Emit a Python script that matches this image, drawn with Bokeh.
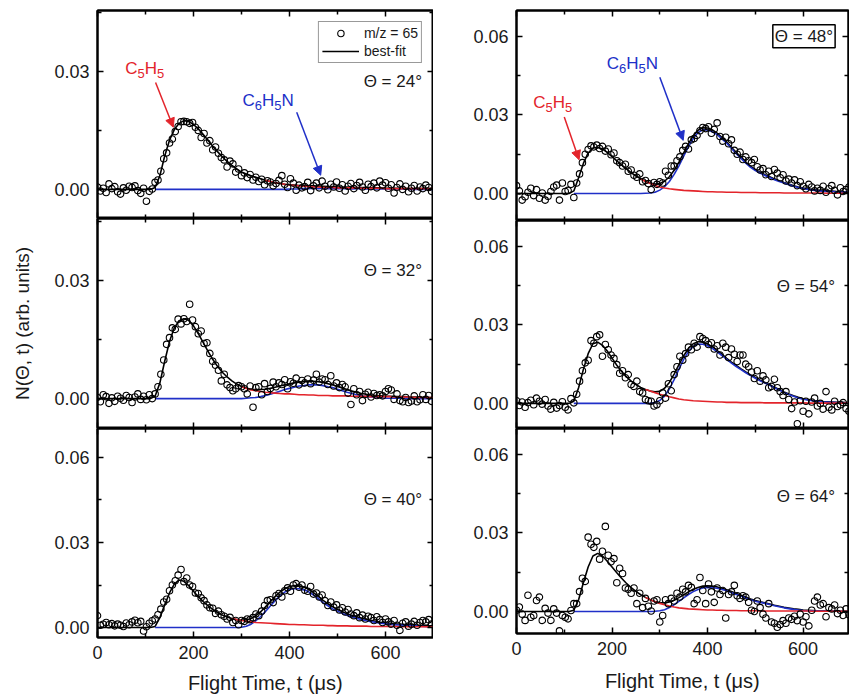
import numpy as np
from bokeh.plotting import figure
from bokeh.layouts import row, column
from bokeh.models import (Range1d, LinearAxis, FixedTicker, PrintfTickFormatter, Label,
                          Arrow, NormalHead, Legend, LegendItem)
from bokeh.embed import file_html
from bokeh.resources import INLINE

_ = None  # part of a component curve that is not drawn

# ---------------------------------------------------------------- data
T_FIT = list(range(0, 701, 10))      # fit curves, flight time (us)
T_PTS = list(range(0, 700, 6))       # data points, flight time (us)

X_MAJOR = [0, 200, 400, 600]
X_MINOR = [100, 300, 500, 700]
Y_MAJOR = [0.0, 0.03, 0.06]
Y_MINOR = [0.015, 0.045]

X_TITLE = "Flight Time, t (\u03bcs)"
Y_TITLE = "N(\u0398, t) (arb. units)"
LEGEND_LABELS = ["m/z = 65", "best-fit"]

# ---- Theta = 24
PTS_24 = [0.0006, -0.0004, 0.0003, -0.0008, 0.0014, 0.0002, 0.0007, -0.0006, -0.0012, 0.0004,
          -0.0002, 0.0008, 0.0005, 0.0009, -0.0003, -0.0010, 0.0003, -0.0030, -0.0005, 0.0001,
          0.0018, 0.0024, 0.0046, 0.0078, 0.0093, 0.0118, 0.0128, 0.0147, 0.0160, 0.0172,
          0.0173, 0.0172, 0.0168, 0.0170, 0.0158, 0.0150, 0.0132, 0.0142, 0.0118, 0.0124,
          0.0101, 0.0108, 0.0092, 0.0081, 0.0075, 0.0057, 0.0072, 0.0065, 0.0044, 0.0052,
          0.0035, 0.0042, 0.0030, 0.0038, 0.0024, 0.0031, 0.0020, 0.0026, 0.0012, 0.0022,
          0.0019, 0.0009, 0.0015, 0.0023, 0.0035, 0.0013, 0.0005, 0.0027, 0.0016, -0.0002,
          0.0011, 0.0004, 0.0007, 0.0018, -0.0003, 0.0009, 0.0016, 0.0004, 0.0021, 0.0008,
          -0.0001, 0.0013, 0.0006, 0.0019, 0.0003, 0.0012, -0.0004, 0.0008, 0.0015, 0.0002,
          0.0010, 0.0018, 0.0006, -0.0002, 0.0013, 0.0007, 0.0016, 0.0004, 0.0021, 0.0011,
          0.0017, 0.0003, 0.0012, -0.0009, 0.0005, 0.0014, 0.0000, 0.0008, -0.0006, 0.0003,
          0.0010, -0.0004, 0.0006, 0.0002, 0.0011, 0.0005, -0.0005]
BLACK_24 = [0, 0, 0, 0, 0, 0, 0, 0, 0, 0,
            0, 0, 0.0005, 0.0035, 0.0085, 0.0125, 0.0152, 0.0168, 0.0175, 0.0173,
            0.0165, 0.0154, 0.0140, 0.0125, 0.0110, 0.0096, 0.0083, 0.0071, 0.0061, 0.0052,
            0.0044, 0.0039, 0.0035, 0.0031, 0.0027, 0.0023, 0.0020, 0.0017, 0.0015, 0.0013,
            0.0012, 0.0011, 0.0010, 0.0010, 0.0009, 0.0009, 0.0008, 0.0008, 0.0007, 0.0007,
            0.0006, 0.0006, 0.0006, 0.0005, 0.0005, 0.0005, 0.0004, 0.0004, 0.0004, 0.0004,
            0.0003, 0.0003, 0.0003, 0.0003, 0.0003, 0.0002, 0.0002, 0.0002, 0.0002, 0.0002,
            0.0002]
RED_24 = [_, _, _, _, _, _, _, _, _, _,
          _, _, _, _, _, _, _, _, _, _,
          _, _, _, _, _, _, _, _, _, _,
          _, _, _, _, _, 0.0023, 0.0020, 0.0017, 0.0015, 0.0013,
          0.0011, 0.0010, 0.0009, 0.0008, 0.0007, 0.0006, 0.0006, 0.0005, 0.0005, 0.0005,
          0.0004, 0.0004, 0.0004, 0.0004, 0.0003, 0.0003, 0.0003, 0.0003, 0.0003, 0.0003,
          0.0002, 0.0002, 0.0002, 0.0002, 0.0002, 0.0002, 0.0002, 0.0002, 0.0002, 0.0002,
          0.0002]
BLUE_24 = [_, _, _, _, _, _, _, _, _, _,
           _, _, 0, 0, 0, 0, 0, 0, 0, 0,
           0, 0, 0, 0, 0, 0, 0, 0, 0, 0,
           0, 0, 0, 0, 0, 0, 0, 0, 0, 0,
           0.0001, 0.0001, 0.0001, 0.0002, 0.0002, 0.0003, 0.0002, 0.0003, 0.0002, 0.0002,
           0.0002, 0.0002, 0.0002, 0.0001, 0.0002, 0.0002, 0.0001, 0.0001, 0.0001, 0.0001,
           0.0001, 0.0001, 0.0001, 0.0001, 0.0001, 0, 0, 0, 0, 0,
           0]

# ---- Theta = 32
PTS_32 = [0.0003, -0.0008, 0.0010, 0.0005, -0.0012, 0.0002, -0.0007, 0.0006, 0.0001, -0.0004,
          0.0008, 0.0003, -0.0010, 0.0004, 0.0012, -0.0002, 0.0006, -0.0003, 0.0010, 0.0000,
          0.0012, 0.0030, 0.0062, 0.0098, 0.0138, 0.0155, 0.0180, 0.0176, 0.0202, 0.0190,
          0.0203, 0.0196, 0.0240, 0.0200, 0.0183, 0.0165, 0.0172, 0.0140, 0.0142, 0.0115,
          0.0095, 0.0085, 0.0072, 0.0045, 0.0062, 0.0035, 0.0028, 0.0020, 0.0025, 0.0033,
          0.0030, 0.0025, 0.0012, 0.0032, -0.0022, 0.0028, 0.0030, 0.0010, 0.0038, 0.0018,
          0.0026, 0.0042, 0.0030, 0.0040, 0.0036, 0.0048, 0.0025, 0.0043, 0.0039, 0.0052,
          0.0035, 0.0046, 0.0040, 0.0050, 0.0038, 0.0047, 0.0062, 0.0042, 0.0050, 0.0048,
          0.0036, 0.0058, 0.0032, 0.0040, 0.0028, 0.0036, 0.0030, 0.0014, -0.0015, 0.0025,
          0.0010, 0.0018, -0.0005, 0.0011, 0.0016, 0.0004, 0.0013, 0.0008, 0.0010, 0.0007,
          0.0018, 0.0025, 0.0022, -0.0002, 0.0012, -0.0005, -0.0008, 0.0003, -0.0010, -0.0006,
          0.0007, -0.0008, -0.0003, 0.0010, -0.0002, 0.0008, -0.0007]
BLACK_32 = [0, 0, 0, 0, 0, 0, 0, 0, 0, 0,
            0, 0, 0.0006, 0.0040, 0.0095, 0.0145, 0.0180, 0.0198, 0.0203, 0.0199,
            0.0185, 0.0165, 0.0143, 0.0121, 0.0100, 0.0082, 0.0067, 0.0055, 0.0045, 0.0037,
            0.0031, 0.0027, 0.0024, 0.0023, 0.0023, 0.0024, 0.0026, 0.0029, 0.0032, 0.0035,
            0.0038, 0.0040, 0.0042, 0.0043, 0.0044, 0.0044, 0.0043, 0.0041, 0.0038, 0.0035,
            0.0031, 0.0027, 0.0023, 0.0019, 0.0016, 0.0013, 0.0011, 0.0009, 0.0008, 0.0007,
            0.0006, 0.0006, 0.0005, 0.0005, 0.0005, 0.0004, 0.0004, 0.0004, 0.0003, 0.0003,
            0.0003]
RED_32 = [_, _, _, _, _, _, _, _, _, _,
          _, _, _, _, _, _, _, _, _, _,
          _, _, _, _, _, _, _, _, _, _,
          0.0030, 0.0026, 0.0022, 0.0020, 0.0018, 0.0016, 0.0015, 0.0014, 0.0013, 0.0012,
          0.0012, 0.0011, 0.0010, 0.0010, 0.0009, 0.0009, 0.0008, 0.0008, 0.0008, 0.0007,
          0.0007, 0.0007, 0.0007, 0.0006, 0.0006, 0.0006, 0.0006, 0.0005, 0.0005, 0.0005,
          0.0005, 0.0005, 0.0004, 0.0004, 0.0004, 0.0004, 0.0003, 0.0003, 0.0003, 0.0003,
          0.0003]
BLUE_32 = [_, _, _, _, _, _, _, _, _, _,
           _, _, 0, 0, 0, 0, 0, 0, 0, 0,
           0, 0, 0, 0, 0, 0, 0, 0, 0, 0,
           0.0000, 0.0001, 0.0002, 0.0003, 0.0005, 0.0008, 0.0011, 0.0015, 0.0019, 0.0023,
           0.0026, 0.0029, 0.0032, 0.0033, 0.0035, 0.0035, 0.0035, 0.0033, 0.0030, 0.0028,
           0.0024, 0.0020, 0.0016, 0.0013, 0.0010, 0.0007, 0.0005, 0.0004, 0.0003, 0.0002,
           0.0001, 0.0001, 0.0001, 0.0001, 0.0001, 0, 0, 0, 0, 0,
           0]

# ---- Theta = 40
PTS_40 = [0.0042, 0.0008, 0.0012, 0.0018, 0.0010, 0.0014, 0.0006, 0.0012, 0.0008, 0.0004,
          0.0016, 0.0010, 0.0020, 0.0026, 0.0017, 0.0022, -0.0012, 0.0003, 0.0015, 0.0024,
          0.0030, 0.0045, 0.0065, 0.0090, 0.0100, 0.0130, 0.0150, 0.0165, 0.0185, 0.0205,
          0.0162, 0.0175, 0.0150, 0.0145, 0.0122, 0.0120, 0.0105, 0.0095, 0.0080, 0.0070,
          0.0068, 0.0050, 0.0058, 0.0045, 0.0040, 0.0030, 0.0036, 0.0018, 0.0025, 0.0010,
          0.0025, 0.0022, 0.0030, 0.0028, 0.0035, 0.0048, 0.0042, 0.0058, 0.0078, 0.0095,
          0.0098, 0.0088, 0.0112, 0.0120, 0.0108, 0.0130, 0.0140, 0.0128, 0.0150, 0.0155,
          0.0142, 0.0150, 0.0132, 0.0128, 0.0145, 0.0118, 0.0122, 0.0108, 0.0115, 0.0095,
          0.0078, 0.0090, 0.0072, 0.0080, 0.0062, 0.0070, 0.0055, 0.0064, 0.0048, 0.0042,
          0.0052, 0.0035, 0.0044, 0.0030, 0.0040, 0.0035, 0.0025, 0.0038, 0.0028, 0.0018,
          0.0030, 0.0020, 0.0012, 0.0025, 0.0008, -0.0010, 0.0015, 0.0020, 0.0005, 0.0012,
          0.0022, 0.0008, 0.0018, 0.0025, 0.0020, 0.0028, 0.0012]
BLACK_40 = [0, 0, 0, 0, 0, 0, 0, 0, 0, 0,
            0, 0, 0.0004, 0.0035, 0.0080, 0.0122, 0.0153, 0.0168, 0.0163, 0.0148,
            0.0128, 0.0109, 0.0092, 0.0077, 0.0064, 0.0053, 0.0044, 0.0037, 0.0032, 0.0028,
            0.0026, 0.0027, 0.0032, 0.0042, 0.0056, 0.0073, 0.0091, 0.0109, 0.0125, 0.0137,
            0.0145, 0.0148, 0.0147, 0.0143, 0.0135, 0.0123, 0.0110, 0.0096, 0.0084, 0.0073,
            0.0064, 0.0056, 0.0049, 0.0043, 0.0038, 0.0033, 0.0029, 0.0025, 0.0022, 0.0019,
            0.0017, 0.0015, 0.0013, 0.0012, 0.0011, 0.0010, 0.0009, 0.0008, 0.0007, 0.0006,
            0.0006]
RED_40 = [_, _, _, _, _, _, _, _, _, _,
          _, _, _, _, _, _, _, _, _, _,
          _, _, _, _, _, _, _, _, 0.0032, 0.0028,
          0.0025, 0.0022, 0.0020, 0.0018, 0.0017, 0.0016, 0.0015, 0.0014, 0.0013, 0.0012,
          0.0011, 0.0011, 0.0010, 0.0010, 0.0009, 0.0008, 0.0008, 0.0008, 0.0007, 0.0007,
          0.0006, 0.0006, 0.0006, 0.0005, 0.0005, 0.0005, 0.0005, 0.0004, 0.0004, 0.0004,
          0.0004, 0.0004, 0.0004, 0.0003, 0.0003, 0.0003, 0.0003, 0.0003, 0.0003, 0.0003,
          0.0003]
BLUE_40 = [_, _, _, _, _, _, _, _, _, _,
           _, _, 0, 0, 0, 0, 0, 0, 0, 0,
           0, 0, 0, 0, 0, 0, 0, 0, 0, 0,
           0.0001, 0.0005, 0.0012, 0.0024, 0.0039, 0.0057, 0.0076, 0.0095, 0.0112, 0.0125,
           0.0134, 0.0137, 0.0137, 0.0133, 0.0126, 0.0115, 0.0102, 0.0088, 0.0077, 0.0066,
           0.0058, 0.0050, 0.0043, 0.0038, 0.0033, 0.0028, 0.0024, 0.0021, 0.0018, 0.0015,
           0.0013, 0.0011, 0.0009, 0.0009, 0.0008, 0.0007, 0.0006, 0.0005, 0.0004, 0.0003,
           0.0003]

# ---- Theta = 48
PTS_48 = [0.0030, 0.0010, -0.0025, -0.0012, 0.0005, 0.0020, -0.0008, 0.0015, -0.0018, 0.0002,
          -0.0025, -0.0010, 0.0008, 0.0025, 0.0032, -0.0025, 0.0040, 0.0008, 0.0012, 0.0035,
          -0.0015, 0.0040, 0.0075, 0.0118, 0.0150, 0.0168, 0.0182, 0.0178, 0.0185, 0.0172,
          0.0180, 0.0162, 0.0170, 0.0148, 0.0155, 0.0125, 0.0118, 0.0105, 0.0112, 0.0085,
          0.0090, 0.0070, 0.0062, 0.0075, 0.0045, 0.0050, 0.0038, 0.0015, 0.0042, 0.0035,
          0.0045, 0.0040, 0.0085, 0.0070, 0.0105, 0.0105, 0.0125, 0.0140, 0.0165, 0.0180,
          0.0170, 0.0205, 0.0210, 0.0222, 0.0240, 0.0252, 0.0248, 0.0255, 0.0230, 0.0245,
          0.0270, 0.0218, 0.0200, 0.0215, 0.0190, 0.0205, 0.0165, 0.0150, 0.0158, 0.0130,
          0.0140, 0.0125, 0.0118, 0.0130, 0.0102, 0.0090, 0.0095, 0.0072, 0.0085, 0.0065,
          0.0092, 0.0078, 0.0060, 0.0072, 0.0048, 0.0055, 0.0040, 0.0052, 0.0030, 0.0045,
          0.0028, 0.0018, 0.0035, 0.0025, 0.0010, 0.0020, 0.0012, 0.0028, 0.0005, 0.0018,
          0.0030, 0.0012, -0.0005, 0.0022, 0.0008, 0.0015, 0.0025]
BLACK_48 = [0, 0, 0, 0, 0, 0, 0, 0, 0, 0,
            0, 0, 0.0010, 0.0060, 0.0115, 0.0155, 0.0174, 0.0177, 0.0170, 0.0157,
            0.0141, 0.0125, 0.0109, 0.0094, 0.0080, 0.0067, 0.0056, 0.0047, 0.0040, 0.0036,
            0.0038, 0.0047, 0.0064, 0.0089, 0.0120, 0.0155, 0.0190, 0.0220, 0.0242, 0.0251,
            0.0250, 0.0243, 0.0231, 0.0215, 0.0197, 0.0177, 0.0157, 0.0138, 0.0120, 0.0104,
            0.0092, 0.0081, 0.0072, 0.0064, 0.0056, 0.0049, 0.0042, 0.0036, 0.0030, 0.0025,
            0.0021, 0.0018, 0.0015, 0.0013, 0.0011, 0.0010, 0.0009, 0.0008, 0.0007, 0.0006,
            0.0006]
RED_48 = [_, _, _, _, _, _, _, _, _, _,
          _, _, _, _, _, _, _, _, _, _,
          _, _, _, _, _, _, 0.0056, 0.0046, 0.0038, 0.0031,
          0.0025, 0.0021, 0.0018, 0.0016, 0.0014, 0.0012, 0.0011, 0.0010, 0.0009, 0.0008,
          0.0007, 0.0007, 0.0006, 0.0006, 0.0005, 0.0005, 0.0005, 0.0004, 0.0004, 0.0004,
          0.0004, 0.0003, 0.0003, 0.0003, 0.0003, 0.0003, 0.0002, 0.0002, 0.0002, 0.0002,
          0.0002, 0.0002, 0.0002, 0.0002, 0.0002, 0.0001, 0.0001, 0.0001, 0.0001, 0.0001,
          0.0001]
BLUE_48 = [_, _, _, _, _, _, _, _, _, _,
           _, _, 0, 0, 0, 0, 0, 0, 0, 0,
           0, 0, 0, 0, 0, 0, 0, 0.0001, 0.0002, 0.0005,
           0.0013, 0.0026, 0.0046, 0.0073, 0.0106, 0.0143, 0.0179, 0.0210, 0.0233, 0.0243,
           0.0243, 0.0236, 0.0225, 0.0209, 0.0192, 0.0172, 0.0152, 0.0134, 0.0116, 0.0100,
           0.0088, 0.0078, 0.0069, 0.0061, 0.0053, 0.0046, 0.0040, 0.0034, 0.0028, 0.0023,
           0.0019, 0.0016, 0.0013, 0.0011, 0.0009, 0.0008, 0.0008, 0.0007, 0.0006, 0.0005,
           0.0005]

# ---- Theta = 54
PTS_54 = [0.0010, -0.0008, 0.0005, -0.0015, 0.0003, 0.0012, -0.0005, 0.0020, 0.0008, -0.0003,
          0.0015, -0.0010, -0.0022, 0.0004, -0.0018, -0.0008, 0.0006, -0.0015, -0.0025, 0.0018,
          0.0002, 0.0035, 0.0085, 0.0125, 0.0155, 0.0165, 0.0240, 0.0230, 0.0255, 0.0262,
          0.0180, 0.0225, 0.0205, 0.0185, 0.0172, 0.0148, 0.0115, 0.0125, 0.0098, 0.0110,
          0.0072, 0.0065, 0.0085, 0.0045, 0.0040, 0.0015, 0.0010, 0.0008, -0.0010, -0.0005,
          0.0010, 0.0040, 0.0020, 0.0075, 0.0048, 0.0110, 0.0140, 0.0180, 0.0165, 0.0190,
          0.0215, 0.0205, 0.0230, 0.0215, 0.0255, 0.0248, 0.0240, 0.0225, 0.0232, 0.0208,
          0.0220, 0.0185, 0.0230, 0.0215, 0.0175, 0.0208, 0.0188, 0.0160, 0.0185, 0.0185,
          0.0150, 0.0140, 0.0120, 0.0095, 0.0125, 0.0085, 0.0105, 0.0090, 0.0060, 0.0065,
          0.0092, 0.0060, 0.0045, 0.0030, 0.0045, 0.0015, -0.0020, 0.0005, -0.0078, 0.0010,
          -0.0030, 0.0008, -0.0040, 0.0005, 0.0020, -0.0010, 0.0000, -0.0022, 0.0045, -0.0015,
          -0.0025, 0.0008, -0.0012, -0.0005, 0.0003, -0.0020, -0.0030]
BLACK_54 = [0, 0, 0, 0, 0, 0, 0, 0, 0, 0,
            0, 0, 0.0008, 0.0060, 0.0130, 0.0190, 0.0228, 0.0234, 0.0222, 0.0200,
            0.0173, 0.0146, 0.0122, 0.0102, 0.0085, 0.0072, 0.0061, 0.0053, 0.0047, 0.0044,
            0.0046, 0.0058, 0.0080, 0.0112, 0.0148, 0.0182, 0.0210, 0.0228, 0.0236, 0.0234,
            0.0227, 0.0216, 0.0202, 0.0188, 0.0172, 0.0158, 0.0145, 0.0132, 0.0120, 0.0109,
            0.0099, 0.0089, 0.0080, 0.0071, 0.0062, 0.0053, 0.0044, 0.0036, 0.0029, 0.0023,
            0.0018, 0.0014, 0.0011, 0.0009, 0.0007, 0.0006, 0.0005, 0.0004, 0.0004, 0.0003,
            0.0003]
RED_54 = [_, _, _, _, _, _, _, _, _, _,
          _, _, _, _, _, _, _, _, _, _,
          _, _, _, _, _, _, _, 0.0053, 0.0047, 0.0041,
          0.0035, 0.0030, 0.0025, 0.0021, 0.0017, 0.0014, 0.0012, 0.0010, 0.0009, 0.0008,
          0.0007, 0.0006, 0.0005, 0.0005, 0.0004, 0.0004, 0.0004, 0.0003, 0.0003, 0.0003,
          0.0003, 0.0003, 0.0002, 0.0002, 0.0002, 0.0002, 0.0002, 0.0002, 0.0002, 0.0002,
          0.0002, 0.0001, 0.0001, 0.0001, 0.0001, 0.0001, 0.0001, 0.0001, 0.0001, 0.0001,
          0.0001]
BLUE_54 = [_, _, _, _, _, _, _, _, _, _,
           _, _, 0, 0, 0, 0, 0, 0, 0, 0,
           0, 0, 0, 0, 0, 0, 0, 0, 0.0000, 0.0003,
           0.0011, 0.0028, 0.0055, 0.0091, 0.0131, 0.0168, 0.0198, 0.0218, 0.0227, 0.0226,
           0.0220, 0.0210, 0.0197, 0.0183, 0.0168, 0.0154, 0.0141, 0.0129, 0.0117, 0.0106,
           0.0096, 0.0086, 0.0078, 0.0069, 0.0060, 0.0051, 0.0042, 0.0034, 0.0027, 0.0021,
           0.0016, 0.0013, 0.0010, 0.0008, 0.0006, 0.0005, 0.0004, 0.0003, 0.0003, 0.0002,
           0.0002]

# ---- Theta = 64
PTS_64 = [0.0005, 0.0017, -0.0010, -0.0034, 0.0062, -0.0022, -0.0015, 0.0042, 0.0055, -0.0034,
          0.0012, -0.0006, -0.0034, 0.0010, -0.0006, -0.0074, -0.0015, -0.0022, -0.0028, 0.0004,
          0.0030, 0.0030, 0.0076, 0.0127, 0.0115, 0.0284, 0.0257, 0.0245, 0.0268, 0.0200,
          0.0230, 0.0325, 0.0215, 0.0190, 0.0202, 0.0110, 0.0165, 0.0145, 0.0090, 0.0085,
          0.0070, 0.0090, 0.0030, 0.0070, 0.0015, 0.0050, 0.0020, 0.0002, 0.0040, 0.0045,
          -0.0040, -0.0015, 0.0045, 0.0030, 0.0050, 0.0040, 0.0070, 0.0055, 0.0085, 0.0075,
          0.0100, 0.0092, 0.0030, 0.0045, 0.0130, 0.0080, 0.0030, 0.0105, 0.0075, 0.0035,
          0.0090, 0.0065, 0.0080, -0.0025, 0.0065, 0.0075, 0.0100, 0.0060, 0.0050, 0.0060,
          0.0055, 0.0035, 0.0005, 0.0000, 0.0040, 0.0015, -0.0010, -0.0025, 0.0030, -0.0040,
          -0.0045, -0.0060, -0.0050, -0.0035, -0.0045, -0.0025, -0.0030, -0.0018, -0.0035, -0.0010,
          -0.0040, -0.0020, -0.0055, 0.0005, 0.0040, 0.0055, 0.0025, 0.0030, -0.0020, 0.0015,
          0.0010, 0.0025, -0.0008, 0.0005, -0.0015, 0.0010, -0.0012]
BLACK_64 = [0, 0, 0, 0, 0, 0, 0, 0, 0, 0,
            0, 0, 0.0005, 0.0045, 0.0110, 0.0170, 0.0212, 0.0222, 0.0212, 0.0192,
            0.0170, 0.0148, 0.0127, 0.0108, 0.0091, 0.0077, 0.0064, 0.0054, 0.0045, 0.0038,
            0.0034, 0.0033, 0.0036, 0.0043, 0.0053, 0.0064, 0.0075, 0.0085, 0.0092, 0.0097,
            0.0098, 0.0097, 0.0094, 0.0089, 0.0083, 0.0076, 0.0069, 0.0062, 0.0055, 0.0048,
            0.0042, 0.0037, 0.0033, 0.0029, 0.0024, 0.0020, 0.0016, 0.0013, 0.0010, 0.0008,
            0.0006, 0.0005, 0.0004, 0.0003, 0.0003, 0.0002, 0.0002, 0.0002, 0.0001, 0.0001,
            0.0001]
RED_64 = [_, _, _, _, _, _, _, _, _, _,
          _, _, _, _, _, _, _, _, _, _,
          _, _, _, _, _, _, _, 0.0054, 0.0045, 0.0037,
          0.0031, 0.0026, 0.0021, 0.0017, 0.0014, 0.0012, 0.0010, 0.0009, 0.0008, 0.0007,
          0.0006, 0.0006, 0.0005, 0.0005, 0.0004, 0.0004, 0.0004, 0.0003, 0.0003, 0.0003,
          0.0003, 0.0002, 0.0002, 0.0002, 0.0002, 0.0002, 0.0002, 0.0002, 0.0002, 0.0002,
          0.0002, 0.0002, 0.0001, 0.0001, 0.0001, 0.0001, 0.0001, 0.0001, 0.0001, 0.0001,
          0.0001]
BLUE_64 = [_, _, _, _, _, _, _, _, _, _,
           _, _, 0, 0, 0, 0, 0, 0, 0, 0,
           0, 0, 0, 0, 0, 0, 0, 0, 0, 0.0001,
           0.0003, 0.0007, 0.0015, 0.0026, 0.0039, 0.0052, 0.0065, 0.0076, 0.0084, 0.0090,
           0.0092, 0.0091, 0.0089, 0.0084, 0.0079, 0.0072, 0.0065, 0.0059, 0.0052, 0.0045,
           0.0039, 0.0035, 0.0031, 0.0027, 0.0022, 0.0018, 0.0014, 0.0011, 0.0008, 0.0006,
           0.0004, 0.0003, 0.0003, 0.0002, 0.0002, 0.0001, 0.0001, 0.0001, 0.0000, 0.0000,
           0.0000]

DATA = {
    "24": (PTS_24, BLACK_24, RED_24, BLUE_24),
    "32": (PTS_32, BLACK_32, RED_32, BLUE_32),
    "40": (PTS_40, BLACK_40, RED_40, BLUE_40),
    "48": (PTS_48, BLACK_48, RED_48, BLUE_48),
    "54": (PTS_54, BLACK_54, RED_54, BLUE_54),
    "64": (PTS_64, BLACK_64, RED_64, BLUE_64),
}

# ---------------------------------------------------------------- style
FONT = "Liberation Sans"
TXT = "#1a1a1a"
RED = "#e3242b"
BLUE = "#2030c8"
CHAR_W = {"C": 0.722, "H": 0.722, "N": 0.722}
LIFT = 4   # px: small upward nudge of in-panel text


def arr(values):
    return np.array([np.nan if v is None else v for v in values], dtype=float)


def hide_labels(ax):
    ax.major_label_text_font_size = "0px"
    ax.major_label_text_color = None
    ax.major_label_standoff = 0


def make_panel(width, height, borders, x_end, y_lo, y_hi, bottom_labels):
    bl, br, bt, bb = borders
    p = figure(width=width, height=height, x_range=Range1d(0, x_end), y_range=Range1d(y_lo, y_hi),
               output_backend="svg", toolbar_location=None,
               min_border_left=bl, min_border_right=br, min_border_top=bt, min_border_bottom=bb)
    p.grid.visible = False
    p.outline_line_color = "black"
    p.outline_line_width = 2
    p.background_fill_color = "white"
    p.border_fill_color = "white"
    xt = FixedTicker(ticks=X_MAJOR, minor_ticks=X_MINOR)
    yt = FixedTicker(ticks=Y_MAJOR, minor_ticks=Y_MINOR)
    top_ax = LinearAxis(ticker=xt)
    right_ax = LinearAxis(ticker=yt)
    p.add_layout(top_ax, "above")
    p.add_layout(right_ax, "right")
    left_ax = p.left[0]
    bot_ax = p.below[0]
    left_ax.ticker = yt
    bot_ax.ticker = xt
    for ax in (left_ax, bot_ax, top_ax, right_ax):
        ax.axis_line_color = "black"
        ax.axis_line_width = 2
        ax.major_tick_in = 6
        ax.major_tick_out = 0
        ax.minor_tick_in = 4
        ax.minor_tick_out = 0
        ax.major_tick_line_width = 1.5
        ax.minor_tick_line_width = 1.5
        ax.major_label_text_font = FONT
        ax.major_label_text_font_size = "18px"
        ax.major_label_text_color = TXT
        ax.axis_label_text_font = FONT
        ax.axis_label_text_font_style = "normal"
        ax.axis_label_text_color = TXT
    left_ax.formatter = PrintfTickFormatter(format="%.2f")
    left_ax.major_label_standoff = 8
    hide_labels(top_ax)
    hide_labels(right_ax)
    if bottom_labels:
        bot_ax.formatter = PrintfTickFormatter(format="%d")
        bot_ax.major_label_standoff = 8
    else:
        hide_labels(bot_ax)
    return p


def draw_data(p, key):
    pts, black, red, blue = DATA[key]
    blk = p.line(T_FIT, arr(black), line_color="black", line_width=1.6)
    p.line(T_FIT, arr(blue), line_color=BLUE, line_width=1.6)
    p.line(T_FIT, arr(red), line_color=RED, line_width=1.6)
    sc = p.scatter(T_PTS[:len(pts)], pts, marker="circle", size=6.5, fill_color=None,
                   line_color="black", line_width=1.1)
    return blk, sc


def theta_label(p, key, x, y, boxed=False):
    kw = {}
    if boxed:
        kw = dict(border_line_color="black", border_line_width=1.5,
                  background_fill_color="white", padding=2)
    p.add_layout(Label(x=x, y=y, y_offset=LIFT, text=f"\u0398 = {key}\u00b0", text_align="right",
                       text_baseline="alphabetic", text_font=FONT, text_font_size="17px",
                       text_color=TXT, **kw))


def formula(p, x, y, parts, color):
    off = 0.0
    for txt, sub in parts:
        size = 13 if sub else 17
        p.add_layout(Label(x=x, y=y, x_offset=off, y_offset=(-5 if sub else 0) + LIFT, text=txt,
                           text_align="left", text_baseline="alphabetic", text_font=FONT,
                           text_font_size=f"{size}px", text_color=color))
        off += sum(CHAR_W.get(c, 0.556) for c in txt) * size


def arrow(p, x0, y0, x1, y1, color):
    p.add_layout(Arrow(end=NormalHead(size=9, fill_color=color, line_color=color),
                       x_start=x0, y_start=y0, x_end=x1, y_end=y1,
                       line_color=color, line_width=1.5))


C5H5 = [("C", False), ("5", True), ("H", False), ("5", True)]
C6H5N = [("C", False), ("6", True), ("H", False), ("5", True), ("N", False)]

# ---------------------------------------------------------------- left column
L1 = make_panel(433, 218, (97, 0, 10, 0), 700, -0.0074, 0.0455, False)
blk, sc = draw_data(L1, "24")
theta_label(L1, "24", 676, 0.0264)
formula(L1, 58, 0.0298, C5H5, RED)
arrow(L1, 121, 0.0272, 158, 0.0158, RED)
formula(L1, 302, 0.0216, C6H5N, BLUE)
arrow(L1, 415, 0.0196, 465, 0.0036, BLUE)
leg = Legend(items=[LegendItem(label=LEGEND_LABELS[0], renderers=[sc]),
                    LegendItem(label=LEGEND_LABELS[1], renderers=[blk])],
             location="top_right", margin=11, padding=3, spacing=2,
             glyph_width=37, glyph_height=16, label_height=16, label_standoff=5,
             label_text_font=FONT, label_text_font_size="14px", label_text_color=TXT,
             border_line_color="#333333", border_line_width=1, background_fill_alpha=1)
L1.add_layout(leg)

L2 = make_panel(433, 210, (97, 0, 0, 0), 700, -0.0076, 0.0458, False)
draw_data(L2, "32")
theta_label(L2, "32", 676, 0.0315)
L2.left[0].axis_label = Y_TITLE
L2.left[0].axis_label_text_font_size = "19px"
L2.left[0].axis_label_standoff = 18

L3 = make_panel(433, 271, (97, 0, 0, 62), 700, -0.0035, 0.0702, True)
draw_data(L3, "40")
theta_label(L3, "40", 676, 0.0437)
L3.below[0].axis_label = X_TITLE
L3.below[0].axis_label_text_font_size = "20px"
L3.below[0].axis_label_standoff = 10

# ---------------------------------------------------------------- right column
R1 = make_panel(416, 220, (83, 1, 10, 0), 695, -0.0103, 0.0699, False)
draw_data(R1, "48")
theta_label(R1, "48", 667, 0.0585, boxed=True)
formula(R1, 189, 0.0483, C6H5N, BLUE)
arrow(R1, 300, 0.0444, 349, 0.0203, BLUE)
formula(R1, 35, 0.0332, C5H5, RED)
arrow(R1, 100, 0.0292, 131, 0.0129, RED)

R2 = make_panel(416, 208, (83, 1, 0, 0), 695, -0.0096, 0.0699, False)
draw_data(R2, "54")
theta_label(R2, "54", 667, 0.0432)

R3 = make_panel(416, 271, (83, 1, 0, 66), 695, -0.0084, 0.0699, True)
draw_data(R3, "64")
theta_label(R3, "64", 667, 0.0424)
R3.below[0].axis_label = X_TITLE
R3.below[0].axis_label_text_font_size = "20px"
R3.below[0].axis_label_standoff = 12

layout = row(column(L1, L2, L3), column(R1, R2, R3))
open("out.html", "w").write(file_html(layout, INLINE))
